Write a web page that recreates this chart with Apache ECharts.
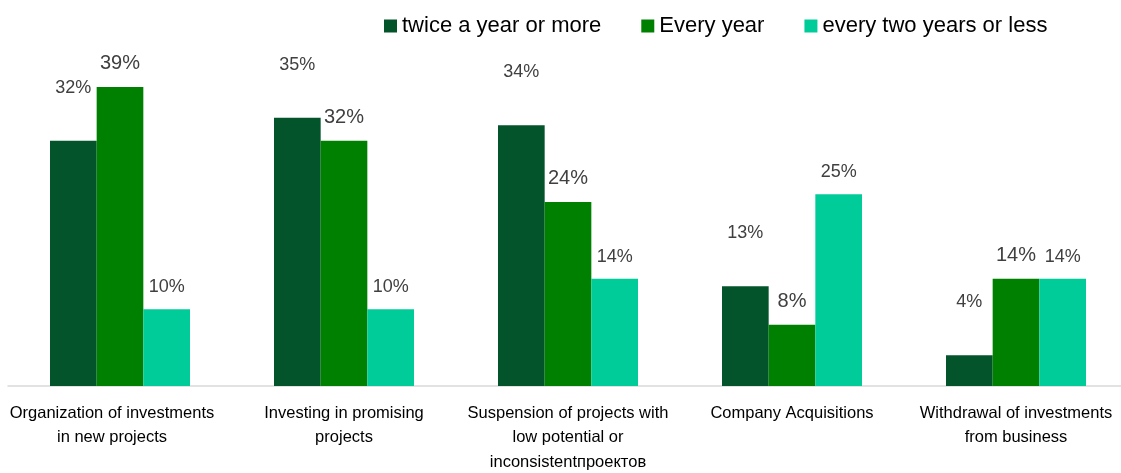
<!DOCTYPE html>
<html>
<head>
<meta charset="utf-8">
<script src="https://cdn.jsdelivr.net/npm/echarts@6/dist/echarts.min.js"></script>
<style>html,body{margin:0;padding:0;background:#fff;overflow:hidden;}#c{width:1128px;height:473px;}</style>
</head>
<body>
<div id="c"></div>
<script>
const categories = [
  "Organization of investments\nin new projects",
  "Investing in promising\nprojects",
  "Suspension of projects with\nlow potential or\ninconsistentпроектов",
  "Company Acquisitions",
  "Withdrawal of investments\nfrom business"
];
const seriesNames = ["twice a year or more", "Every year", "every two years or less"];
const twiceAYear = [32, 35, 34, 13, 4];
const everyYear = [39, 32, 24, 8, 14];
const everyTwoYears = [10, 10, 14, 25, 14];

const FONT = "'Liberation Sans Narrow', 'Arial Narrow', 'Liberation Sans', Arial, sans-serif";
const colors = ["#03532B", "#008000", "#00CC99"];
const labelSizes = [18, 20, 18];
const labelDist = [44, 13, 13];
const values = [twiceAYear, everyYear, everyTwoYears];

const chart = echarts.init(document.getElementById('c'), null, {renderer: 'canvas'});
chart.setOption({
  animation: false,
  color: colors,
  legend: {
    top: 10,
    left: 379,
    width: 740,
    itemWidth: 13,
    itemHeight: 13,
    itemGap: 40,
    icon: 'rect',
    textStyle: {fontFamily: FONT, fontSize: 22, color: '#000'},
    data: seriesNames
  },
  grid: {left: 8, right: 0, top: 79.3, bottom: 87, containLabel: false, outerBoundsMode: 'none'},
  xAxis: {
    type: 'category',
    data: categories,
    axisLine: {show: true, lineStyle: {color: '#D9D9D9', width: 1.5}},
    axisTick: {show: false},
    axisLabel: {
      interval: 0,
      margin: 15,
      fontFamily: FONT,
      fontSize: 16.5,
      lineHeight: 24.5,
      color: '#000',
      verticalAlign: 'top',
      formatter: function (v, i) {
        return i === 0 ? v.split('\n').map(s => '{s|' + s + '}').join('\n') : v;
      },
      rich: {
        s: {fontFamily: FONT, fontSize: 16.5, lineHeight: 24.5, color: '#000', padding: [0, 16, 0, 0]}
      }
    }
  },
  yAxis: {type: 'value', min: 0, max: 40, show: false, splitLine: {show: false}},
  series: seriesNames.map((name, i) => ({
    name: name,
    type: 'bar',
    data: values[i],
    barGap: '0%',
    barCategoryGap: '37.5%',
    itemStyle: {color: colors[i]},
    label: {
      show: true,
      position: 'top',
      distance: labelDist[i],
      formatter: '{c}%',
      fontFamily: FONT,
      fontSize: labelSizes[i],
      color: '#404040'
    }
  }))
});
</script>
</body>
</html>
